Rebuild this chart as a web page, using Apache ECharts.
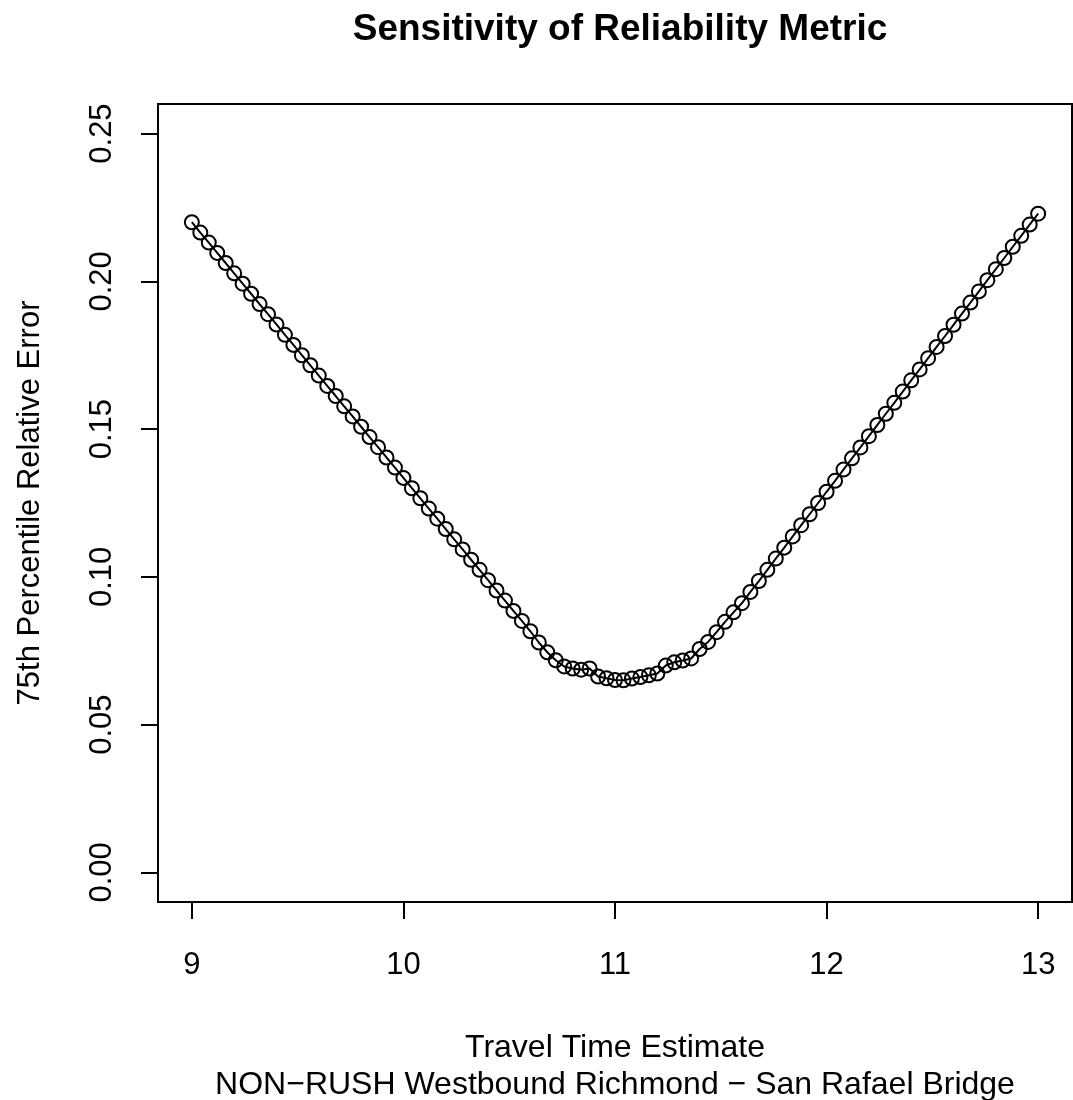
<!DOCTYPE html>
<html style="height: 100%">
<head>
    <meta charset="UTF-8" />
    <title>Sensitivity of Reliability Metric</title>
    <script src="https://cdn.jsdelivr.net/npm/echarts@6/dist/echarts.min.js"></script>
</head>
<body style="margin:0;background:#fff">
    <div id="main" style="width:1073px;height:1100px;"></div>
    <script>
        // travel time estimates (x) and 75th percentile relative error (y)
        var estimates = [
            9.00, 9.04, 9.08, 9.12, 9.16, 9.20, 9.24, 9.28, 9.32, 9.36,
            9.40, 9.44, 9.48, 9.52, 9.56, 9.60, 9.64, 9.68, 9.72, 9.76,
            9.80, 9.84, 9.88, 9.92, 9.96, 10.00, 10.04, 10.08, 10.12, 10.16,
            10.20, 10.24, 10.28, 10.32, 10.36, 10.40, 10.44, 10.48, 10.52, 10.56,
            10.60, 10.64, 10.68, 10.72, 10.76, 10.80, 10.84, 10.88, 10.92, 10.96,
            11.00, 11.04, 11.08, 11.12, 11.16, 11.20, 11.24, 11.28, 11.32, 11.36,
            11.40, 11.44, 11.48, 11.52, 11.56, 11.60, 11.64, 11.68, 11.72, 11.76,
            11.80, 11.84, 11.88, 11.92, 11.96, 12.00, 12.04, 12.08, 12.12, 12.16,
            12.20, 12.24, 12.28, 12.32, 12.36, 12.40, 12.44, 12.48, 12.52, 12.56,
            12.60, 12.64, 12.68, 12.72, 12.76, 12.80, 12.84, 12.88, 12.92, 12.96,
            13.00
        ];
        var relError = [
            0.2200, 0.2165, 0.2131, 0.2096, 0.2062, 0.2027, 0.1992, 0.1958, 0.1923, 0.1889,
            0.1854, 0.1819, 0.1785, 0.1750, 0.1716, 0.1681, 0.1646, 0.1612, 0.1577, 0.1543,
            0.1508, 0.1473, 0.1439, 0.1404, 0.1370, 0.1335, 0.1300, 0.1266, 0.1231, 0.1197,
            0.1162, 0.1127, 0.1093, 0.1058, 0.1024, 0.0989, 0.0954, 0.0920, 0.0885, 0.0851,
            0.0816, 0.0778, 0.0745, 0.0718, 0.0697, 0.0690, 0.0686, 0.0690, 0.0663, 0.0657,
            0.0651, 0.0650, 0.0656, 0.0661, 0.0667, 0.0673, 0.0700, 0.0711, 0.0717, 0.0724,
            0.0756, 0.0780, 0.0813, 0.0848, 0.0880, 0.0911, 0.0949, 0.0986, 0.1024, 0.1062,
            0.1099, 0.1137, 0.1175, 0.1212, 0.1250, 0.1288, 0.1325, 0.1363, 0.1401, 0.1438,
            0.1476, 0.1514, 0.1552, 0.1589, 0.1627, 0.1665, 0.1702, 0.1740, 0.1778, 0.1815,
            0.1853, 0.1891, 0.1928, 0.1966, 0.2004, 0.2041, 0.2079, 0.2117, 0.2154, 0.2192,
            0.2229
        ];
        var xTicks = [9, 10, 11, 12, 13];
        var yTicks = [0, 0.05, 0.10, 0.15, 0.20, 0.25];

        var font = '"Liberation Sans", Arial, sans-serif';
        var points = [];
        for (var i = 0; i < estimates.length; i++) {
            points.push([estimates[i], relError[i]]);
        }

        var app = echarts.init(document.getElementById('main'));
        var option = {
            backgroundColor: '#fff',
            animation: false,
            title: {
                text: 'Sensitivity of Reliability Metric',
                left: 615,
                top: 6,
                textAlign: 'center',
                textStyle: {fontFamily: font, fontSize: 37, fontWeight: 'bold', color: '#000'}
            },
            grid: {
                left: 158, right: 1, top: 104, bottom: 198,
                outerBoundsMode: 'none',
                containLabel: false,
                show: true, borderColor: '#000', borderWidth: 2, backgroundColor: 'transparent'
            },
            xAxis: {
                type: 'value',
                min: 8.84, max: 13.16,
                name: 'Travel Time Estimate\nNON\u2212RUSH Westbound Richmond \u2212 San Rafael Bridge',
                nameLocation: 'middle',
                nameGap: 128,
                nameTextStyle: {fontFamily: font, fontSize: 32, color: '#000', lineHeight: 37},
                axisLine: {show: false, onZero: false},
                axisTick: {show: true, length: 17, customValues: xTicks, lineStyle: {color: '#000', width: 2}},
                axisLabel: {
                    customValues: xTicks, margin: 48,
                    fontFamily: font, fontSize: 31, color: '#000'
                },
                splitLine: {show: false}
            },
            yAxis: {
                type: 'value',
                min: -0.01, max: 0.26,
                name: '75th Percentile Relative Error',
                nameLocation: 'middle',
                nameGap: 112,
                nameTextStyle: {fontFamily: font, fontSize: 31, color: '#000'},
                axisLine: {show: false, onZero: false},
                axisTick: {show: true, length: 17, customValues: yTicks, lineStyle: {color: '#000', width: 2}},
                axisLabel: {
                    customValues: yTicks, margin: 40, rotate: 90,
                    fontFamily: font, fontSize: 31, color: '#000',
                    formatter: function (v) { return v.toFixed(2); }
                },
                splitLine: {show: false}
            },
            series: [{
                type: 'line',
                data: points,
                symbol: 'circle',
                symbolSize: 14,
                lineStyle: {color: '#000', width: 2},
                itemStyle: {color: 'rgba(0,0,0,0)', borderColor: '#000', borderWidth: 2}
            }]
        };
        app.setOption(option);
    </script>
</body>
</html>
